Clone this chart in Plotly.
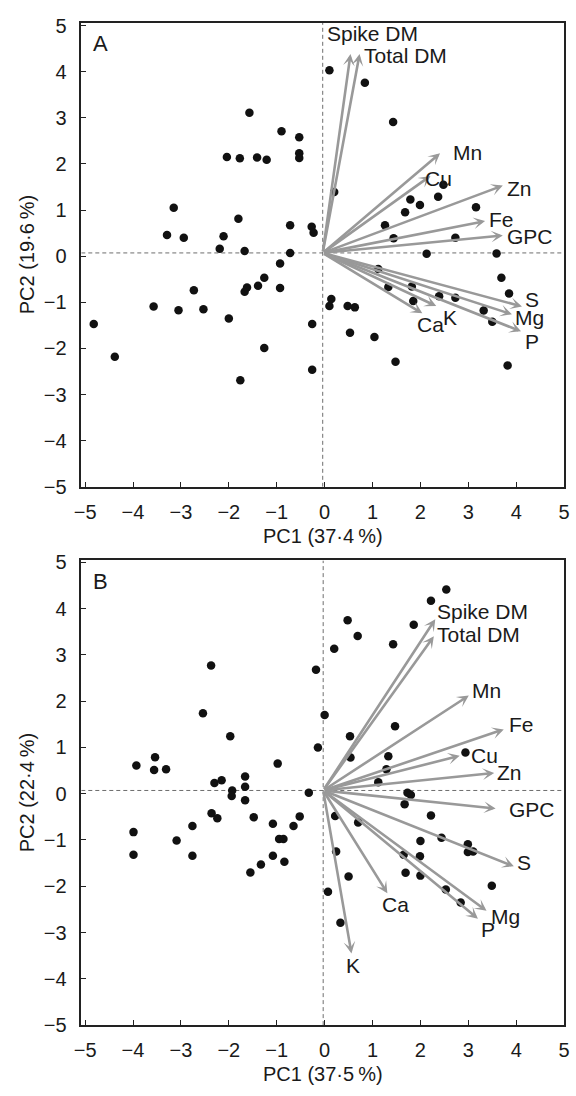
import plotly.graph_objects as go

# ---- Panel A: sample scores ----
a_pc1 = [0.10, -1.57, -0.90, -0.53, -0.53, -0.53, -2.04, -1.77, -1.41, -1.21,
         -3.15, -3.29, -2.94, -1.80, -2.11, -2.19, -1.67, -0.72, -0.72, -0.27,
         -0.23, -0.93, -4.82, -4.38, -3.57, -3.05, -2.73, -2.53, -2.00, -1.76,
         -1.67, -1.62, -1.39, -1.26, -1.26, -0.93, -0.26, -0.26, 0.10, 0.84,
         1.43, 0.20, 2.48, 2.37, 1.79, 1.99, 1.68, 3.16, 1.26, 1.44,
         2.73, 2.13, 3.59, 3.69, 3.85, 1.12, 1.33, 1.82, 1.85, 2.39,
         2.73, 3.32, 3.50, 0.14, 0.48, 0.63, 0.53, 1.04, 1.48, 3.82]
a_pc2 = [4.03, 3.11, 2.71, 2.58, 2.23, 2.13, 2.15, 2.12, 2.14, 2.09,
         1.05, 0.46, 0.40, 0.81, 0.43, 0.16, 0.11, 0.67, 0.07, 0.64,
         0.51, -0.16, -1.47, -2.18, -1.09, -1.17, -0.74, -1.15, -1.35, -2.69,
         -0.77, -0.68, -0.64, -0.47, -1.99, -0.69, -1.47, -2.46, -1.08, 3.76,
         2.91, 1.39, 1.55, 1.29, 1.23, 1.11, 0.95, 1.06, 0.67, 0.39,
         0.40, 0.05, 0.06, -0.47, -0.81, -0.28, -0.67, -0.66, -0.97, -0.87,
         -0.90, -1.18, -1.42, -0.93, -1.08, -1.11, -1.66, -1.75, -2.29, -2.37]

# ---- Panel A: variable loadings (arrow tips) ----
a_vars = ["Spike DM", "Total DM", "Mn", "Cu", "Zn", "Fe", "GPC", "S", "Mg", "P", "Ca", "K"]
a_load1 = [0.54, 0.73, 2.41, 2.21, 3.72, 3.35, 3.72, 4.12, 3.91, 4.10, 2.04, 2.33]
a_load2 = [4.38, 4.38, 2.23, 1.74, 1.53, 0.76, 0.45, -1.09, -1.26, -1.63, -1.24, -1.08]
# label anchors (left edge, vertical middle)
a_lab1 = [0.04, 0.82, 2.69, 2.10, 3.80, 3.43, 3.80, 4.18, 3.98, 4.18, 1.92, 2.48]
a_lab2 = [4.82, 4.36, 2.25, 1.68, 1.46, 0.79, 0.43, -0.94, -1.34, -1.86, -1.49, -1.33]

# ---- Panel B: sample scores ----
b_pc1 = [-2.37, -2.54, -1.97, -0.18, 0.00, -0.14, -0.98, -3.93, -3.54, -3.56,
         -3.31, -2.30, -2.15, -1.66, -1.66, -1.93, -0.33, -1.94, -1.66, -2.36,
         -2.24, -1.48, -0.52, -0.65, -1.08, -0.95, -0.86, -2.76, -3.99, -3.99,
         -3.09, -2.76, -1.08, -0.84, -1.33, -1.55, 0.07, 2.54, 2.22, 0.48,
         1.86, 0.69, 0.20, 1.43, 1.47, 0.53, 0.54, 1.33, 2.94, 1.29,
         1.12, 1.73, 1.80, 1.67, 2.22, 0.22, 0.70, 2.44, 2.00, 2.99,
         3.10, 2.99, 0.24, 1.65, 1.99, 1.69, 2.00, 0.50, 3.49, 2.53,
         2.84, 0.33]
b_pc2 = [2.77, 1.74, 1.24, 2.68, 1.70, 1.00, 0.65, 0.61, 0.79, 0.51,
         0.53, 0.23, 0.29, 0.37, 0.15, 0.07, 0.02, -0.05, -0.14, -0.42,
         -0.53, -0.51, -0.49, -0.70, -0.65, -0.98, -0.98, -0.70, -0.83, -1.32,
         -1.01, -1.34, -1.34, -1.47, -1.53, -1.70, -2.12, 4.41, 4.17, 3.75,
         3.65, 3.41, 3.13, 3.23, 1.46, 1.24, 0.78, 0.81, 0.89, 0.53,
         0.25, 0.02, -0.03, -0.23, -0.47, -0.48, -0.62, -0.95, -1.02, -1.09,
         -1.25, -1.26, -1.25, -1.32, -1.35, -1.71, -1.77, -1.79, -1.99, -2.07,
         -2.35, -2.79]

# ---- Panel B: variable loadings (arrow tips) ----
b_vars = ["Spike DM", "Total DM", "Mn", "Fe", "Cu", "Zn", "GPC", "S", "Mg", "P", "Ca", "K"]
b_load1 = [2.31, 2.28, 3.01, 3.74, 2.82, 3.54, 3.57, 3.95, 3.38, 3.20, 1.31, 0.56]
b_load2 = [3.77, 3.40, 2.12, 1.39, 0.82, 0.45, -0.32, -1.57, -2.53, -2.70, -2.15, -3.45]
b_lab1 = [2.35, 2.35, 3.08, 3.84, 3.06, 3.60, 3.84, 4.01, 3.47, 3.27, 1.19, 0.44]
b_lab2 = [3.93, 3.45, 2.24, 1.50, 0.82, 0.45, -0.35, -1.48, -2.66, -2.93, -2.40, -3.71]

ticks = [-5, -4, -3, -2, -1, 0, 1, 2, 3, 4, 5]

W, H = 576, 1096
FONT = "Liberation Sans, Arial, sans-serif"
ARROW = "#999999"
INK = "#1a1a1a"

panels = [
    dict(tag="A", xa="x", ya="y", pc1=a_pc1, pc2=a_pc2, vars=a_vars,
         l1=a_load1, l2=a_load2, t1=a_lab1, t2=a_lab2, origin=(-0.04, 0.07),
         xtitle="PC1 (37·4\u2009%)", ytitle="PC2 (19·6\u2009%)",
         ydom=(1 - 486.7 / H, 1 - 14 / H), yr=(-5.0, 5.06), xt_y=537, letter_y=4.62),
    dict(tag="B", xa="x2", ya="y2", pc1=b_pc1, pc2=b_pc2, vars=b_vars,
         l1=b_load1, l2=b_load2, t1=b_lab1, t2=b_lab2, origin=(-0.03, 0.07),
         xtitle="PC1 (37·5\u2009%)", ytitle="PC2 (22·4\u2009%)",
         ydom=(1 - 1035 / H, 1 - 561.7 / H), yr=(-5.0, 5.04), xt_y=1085, letter_y=4.59),
]

xdom = (76 / W, 570 / W)
xr = (-5.08, 5.0)

fig = go.Figure()
annotations = []
shapes = []

for p in panels:
    fig.add_trace(go.Scatter(
        x=p["pc1"], y=p["pc2"], xaxis=p["xa"], yaxis=p["ya"], mode="markers",
        marker=dict(size=8.5, color="#111111"), showlegend=False, hoverinfo="skip"))

    ox, oy = p["origin"]
    # dashed reference lines through the origin of the loading vectors
    shapes.append(dict(type="line", xref=p["xa"], yref=p["ya"], x0=xr[0], x1=xr[1],
                       y0=oy, y1=oy, layer="below",
                       line=dict(color="#6e6e6e", width=1, dash="4px,3px")))
    shapes.append(dict(type="line", xref=p["xa"], yref=p["ya"], x0=ox, x1=ox,
                       y0=p["yr"][0], y1=p["yr"][1], layer="below",
                       line=dict(color="#6e6e6e", width=1, dash="4px,3px")))

    # loading vectors
    for name, x1, y1, tx, ty in zip(p["vars"], p["l1"], p["l2"], p["t1"], p["t2"]):
        annotations.append(dict(
            x=x1, y=y1, ax=ox, ay=oy, xref=p["xa"], yref=p["ya"],
            axref=p["xa"], ayref=p["ya"], text="", showarrow=True,
            arrowhead=3, arrowsize=0.75, arrowwidth=2.6, arrowcolor=ARROW, standoff=0))
        annotations.append(dict(
            x=tx, y=ty, xref=p["xa"], yref=p["ya"], text=name, showarrow=False,
            xanchor="left", yanchor="middle", xshift=-2,
            font=dict(family=FONT, size=21, color=INK)))

    # panel letter
    annotations.append(dict(x=-4.88, y=p["letter_y"],
                            xref=p["xa"], yref=p["ya"], text=p["tag"], showarrow=False,
                            xanchor="left", yanchor="middle",
                            font=dict(family=FONT, size=22, color=INK)))

    # axis titles
    annotations.append(dict(x=(xdom[0] + xdom[1]) / 2, y=1 - p["xt_y"] / H,
                            xref="paper", yref="paper", text=p["xtitle"], showarrow=False,
                            xanchor="center", yanchor="middle",
                            font=dict(family=FONT, size=20, color=INK)))
    annotations.append(dict(x=20 / W, y=(p["ydom"][0] + p["ydom"][1]) / 2,
                            xref="paper", yref="paper", text=p["ytitle"], showarrow=False,
                            textangle=-90, xanchor="center", yanchor="middle",
                            font=dict(family=FONT, size=20, color=INK)))

axis_common = dict(showgrid=False, zeroline=False, showline=True, linecolor="#222222",
                   linewidth=1.5, mirror=True, ticks="inside", ticklen=5, tickwidth=1.3,
                   tickcolor="#222222", tickvals=ticks, fixedrange=True,
                   tickfont=dict(family=FONT, size=20, color=INK))

fig.update_layout(
    width=W, height=H, margin=dict(l=0, r=0, t=0, b=0),
    paper_bgcolor="white", plot_bgcolor="white",
    xaxis=dict(domain=xdom, range=xr, anchor="y", ticklabelstandoff=6, **axis_common),
    yaxis=dict(domain=panels[0]["ydom"], range=panels[0]["yr"], anchor="x",
               ticklabelstandoff=9, **axis_common),
    xaxis2=dict(domain=xdom, range=xr, anchor="y2", ticklabelstandoff=6, **axis_common),
    yaxis2=dict(domain=panels[1]["ydom"], range=panels[1]["yr"], anchor="x2",
                ticklabelstandoff=9, **axis_common),
    annotations=annotations, shapes=shapes,
)

fig.write_html("out.html")
